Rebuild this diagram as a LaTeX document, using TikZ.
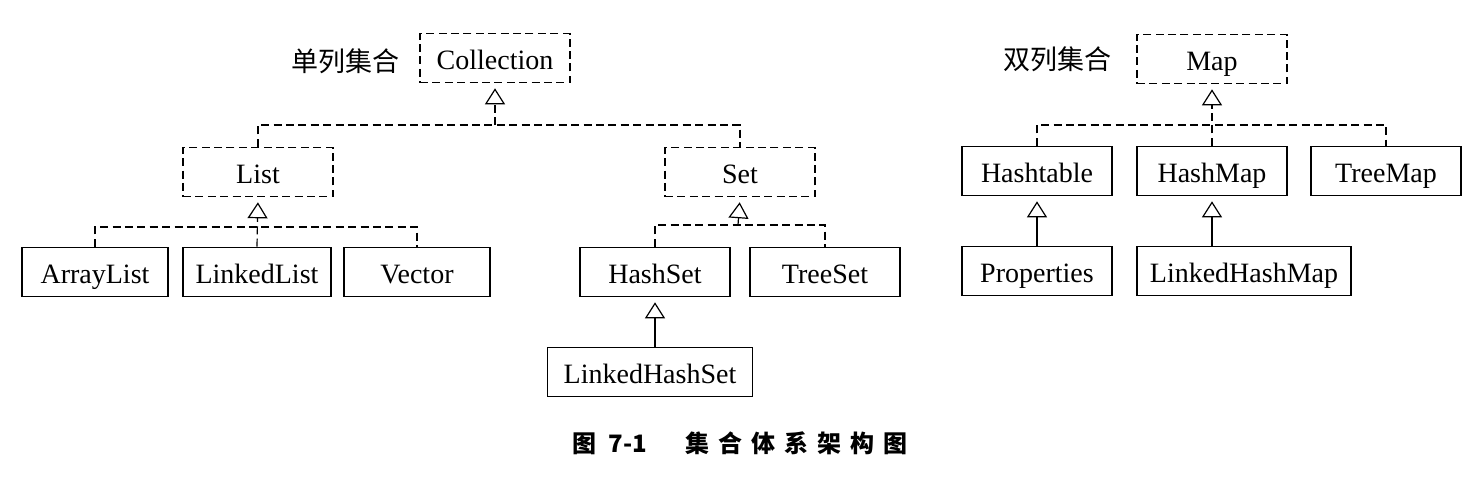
\documentclass[tikz,border=0pt]{standalone}
\usepackage{fontspec}
\setmainfont{Liberation Serif}
\newfontfamily\cjk{Noto Sans CJK SC}
\usetikzlibrary{arrows.meta}

\begin{document}
\begin{tikzpicture}[x=0.5pt,y=0.5pt,yscale=-1,
		box/.style={draw,line width=0.8pt,minimum width=75pt,minimum height=24.5pt,inner sep=0pt,text height=11.5pt,text depth=0.5pt,font=\fontsize{14}{16}\selectfont},
		ibox/.style={box,dash pattern=on 4pt off 2.2pt},
		link/.style={line width=0.6pt},
		dlink/.style={link,dash pattern=on 4pt off 2.2pt},
		inh/.style={-{Triangle[open,length=8pt,width=10pt]},shorten >=2.5pt},
		lab/.style={anchor=east,font=\cjk\fontsize{13.5}{16}\selectfont}]
		\useasboundingbox (0,0) rectangle (1468,482);
		\node[ibox] (coll) at (495,58) {Collection};
		\node[lab] (lab1) at (407,61) {单列集合};
		\node[ibox] (list) at (258,172) {List};
		\node[ibox] (set) at (740,172) {Set};
		\node[box,minimum width=73pt] (al) at (95,272) {ArrayList};
		\node[box,minimum width=74pt] (ll) at (257,272) {LinkedList};
		\node[box,minimum width=73pt] (vec) at (417,272) {Vector};
		\node[box] (hs) at (655,272) {HashSet};
		\node[box] (ts) at (825,272) {TreeSet};
		\node[box,minimum width=102.5pt] (lhs) at (650,372) {LinkedHashSet};
		\node[ibox] (map) at (1212,59) {Map};
		\node[lab] (lab2) at (1119,59) {双列集合};
		\node[box] (ht) at (1037,171) {Hashtable};
		\node[box] (hm) at (1212,171) {HashMap};
		\node[box] (tm) at (1386,171) {TreeMap};
		\node[box] (prop) at (1037,271) {Properties};
		\node[box,minimum width=107pt] (lhm) at (1244,271) {LinkedHashMap};
		\coordinate (cbar) at (495,125);
		\coordinate (lbar) at (258,227);
		\coordinate (sbar) at (738,225);
		\coordinate (mbar) at (1212,125);
		\draw [dlink] (list.north) |- (cbar) -| (set.north);
		\draw [dlink,inh] (cbar) -- (coll.south);
		\draw [dlink] (al.north) |- (lbar) -| (vec.north);
		\draw [dlink,inh] (ll.north) -- (list.south);
		\draw [dlink] (hs.north) |- (sbar) -| (ts.north);
		\draw [dlink,inh] (sbar) -- (set.south);
		\draw [link,inh] (lhs.north -| hs.south) -- (hs.south);
		\draw [dlink] (ht.north) |- (mbar) -| (tm.north);
		\draw [dlink,inh] (hm.north) -- (map.south);
		\draw [link,inh] (prop.north) -- (ht.south);
		\draw [link,inh] (lhm.north -| hm.south) -- (hm.south);
		\node[font=\cjk\bfseries\fontsize{12}{14}\selectfont] (cap) at (740,443) {图\hspace{6pt}7-1\hspace{19pt}集\hspace{4.5pt}合\hspace{4.5pt}体\hspace{4.5pt}系\hspace{4.5pt}架\hspace{4.5pt}构\hspace{4.5pt}图};
\end{tikzpicture}
\end{document}
